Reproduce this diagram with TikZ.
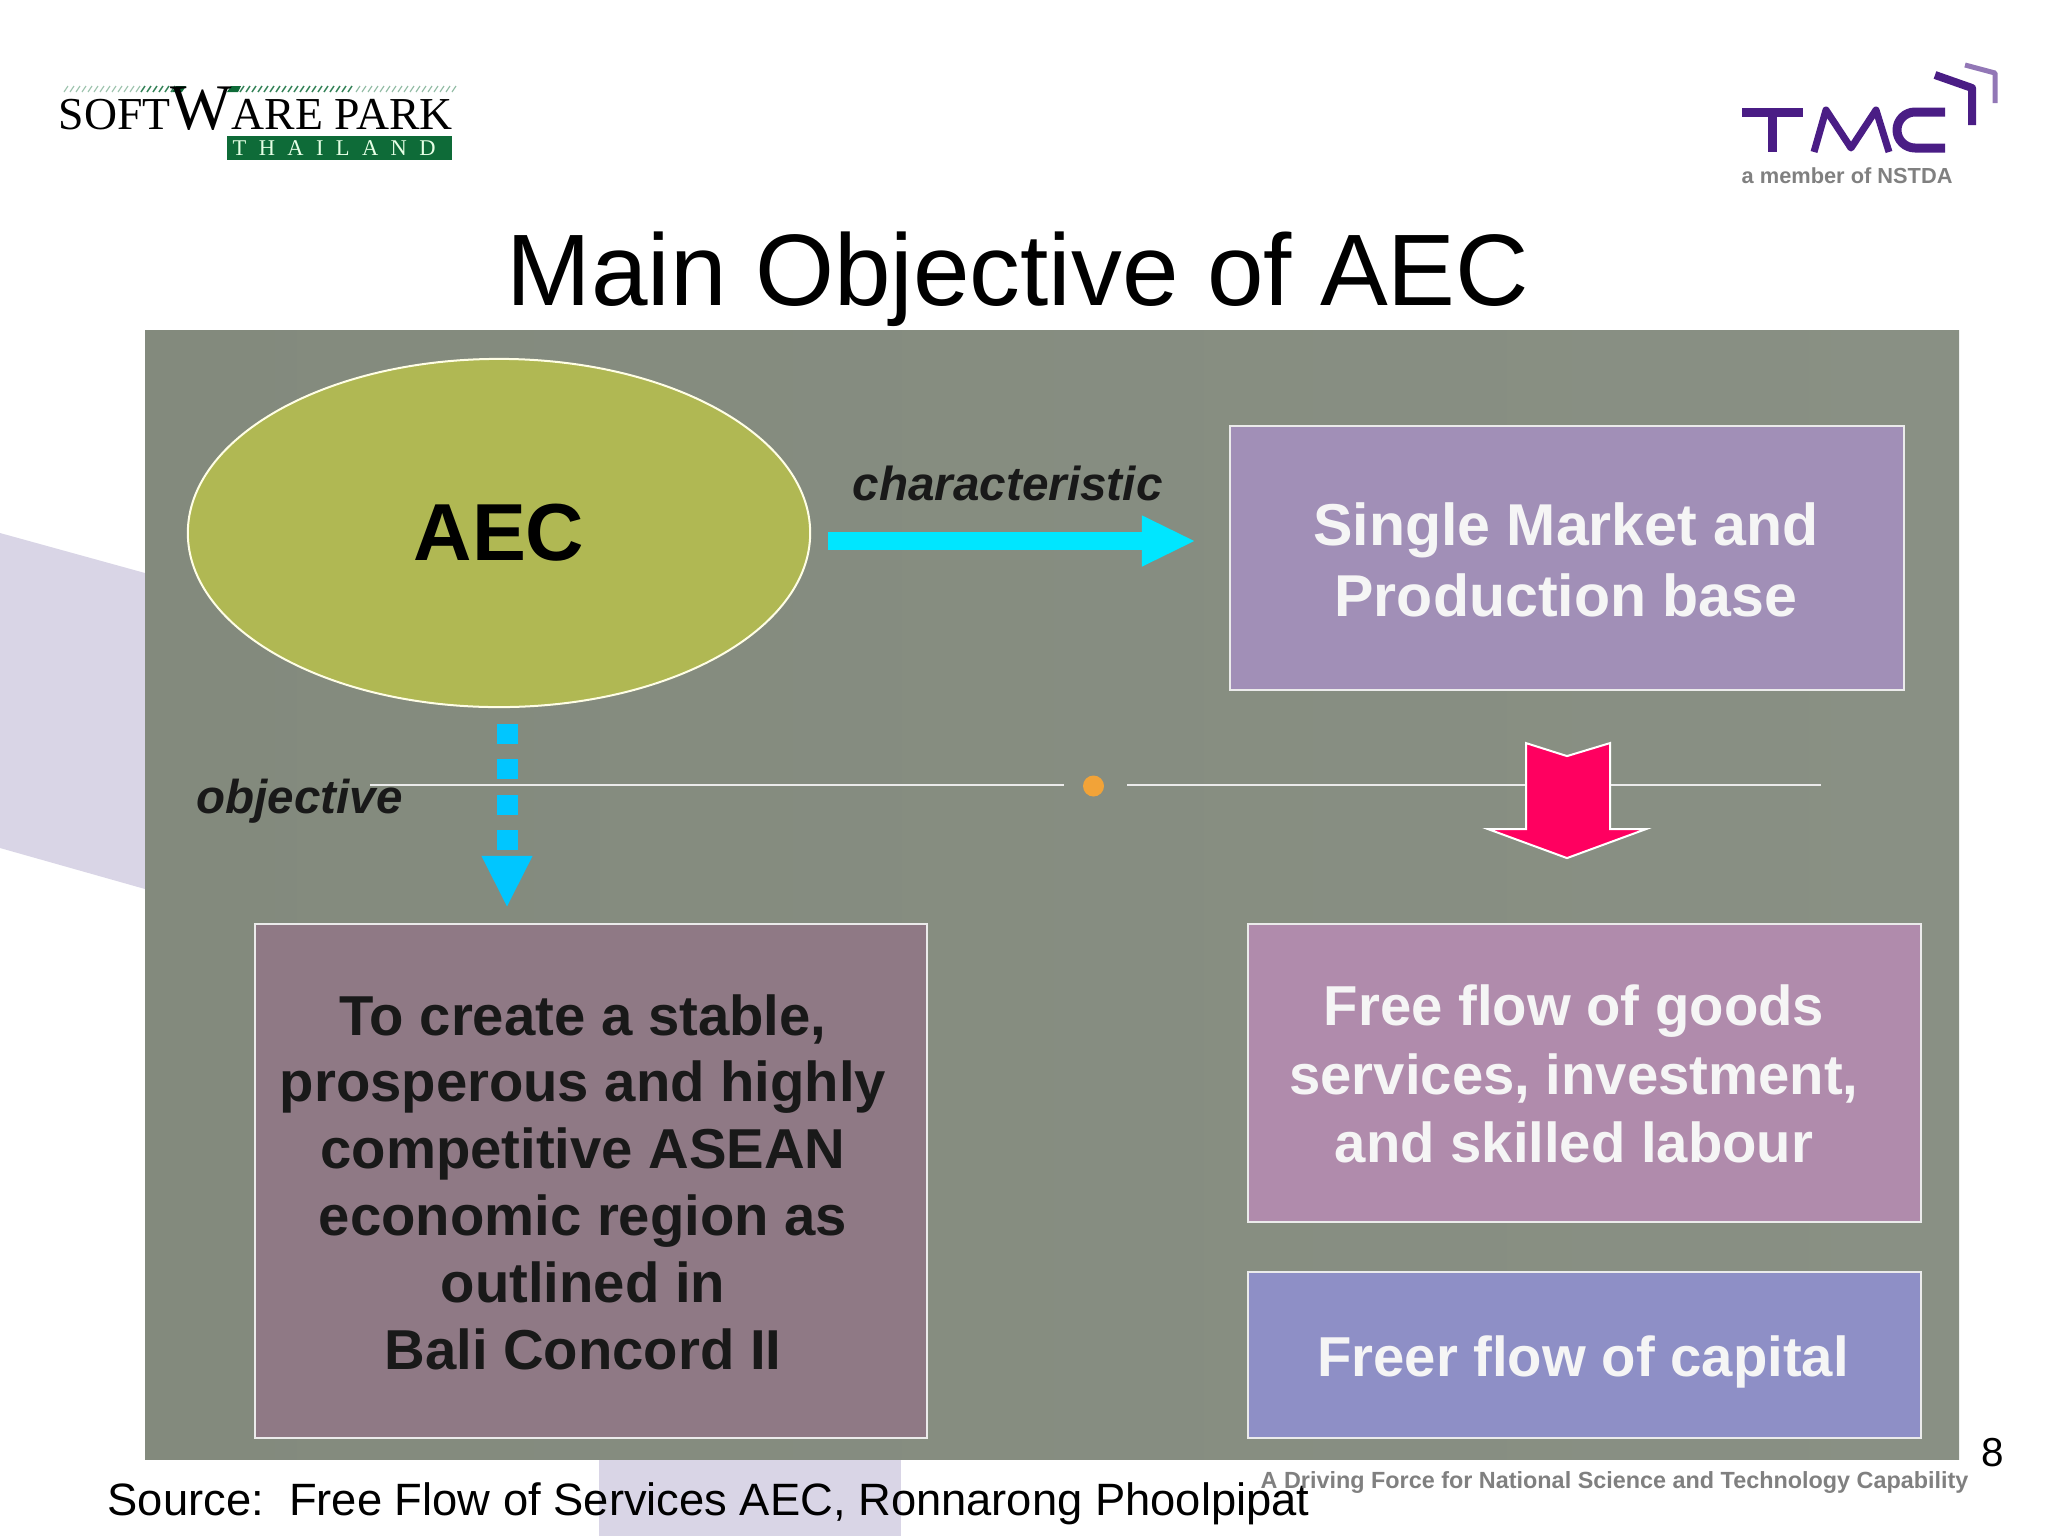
\documentclass[tikz,border=0pt]{standalone}
\usepackage{fontspec}
\setmainfont{Liberation Sans}
\newfontfamily\logofont{Liberation Serif}
\newfontfamily\logowide[LetterSpace=55]{Liberation Serif}
\usetikzlibrary{arrows.meta,shapes.geometric}
\definecolor{panelgrey}{HTML}{838A7D}
\definecolor{panelgreyb}{HTML}{899084}
\definecolor{lilac}{HTML}{D9D5E6}
\definecolor{aecolive}{HTML}{B0B853}
\definecolor{marketpurple}{HTML}{A18FB7}
\definecolor{aimmauve}{HTML}{8F7985}
\definecolor{goodspink}{HTML}{B08BAC}
\definecolor{capitalblue}{HTML}{8E8FC6}
\definecolor{arrowcyan}{HTML}{00E6FF}
\definecolor{arrowblue}{HTML}{00C6FF}
\definecolor{arrowpink}{HTML}{FF0060}
\definecolor{dotorange}{HTML}{F2A338}
\definecolor{tmcpurple}{HTML}{4A1D85}
\definecolor{sparkgreen}{HTML}{0E6B38}
\begin{document}
\begin{tikzpicture}[x=.01cm,y=-.01cm,
    every node/.style={inner sep=0pt,align=center},
    panelbox/.style={draw=white!92!black,line width=.02cm,minimum width=6.72cm},
    boxtext/.style={font=\fontsize{16}{19.4}\selectfont\bfseries},
    tmcstroke/.style={draw=tmcpurple,line width=.09cm,line join=round}]
    \useasboundingbox (0,0) rectangle (2048,1536);
    \fill[lilac] (0,533) -- (145,573) -- (145,889) -- (0,848) -- cycle;
    \fill[lilac] (599,1459) rectangle (901,1536);
    \fill[left color=panelgrey,right color=panelgreyb] (145,330) rectangle (1959,1459);

    \foreach \hx in {64,70,...,136} \draw[sparkgreen!40,line width=.012cm] (\hx,92) -- ++(4,-6);
    \foreach \hx in {141,147,...,176} \draw[sparkgreen!85,line width=.015cm] (\hx,92) -- ++(4,-6);
    \foreach \hx in {240,246,...,350} \draw[sparkgreen!85,line width=.015cm] (\hx,92) -- ++(4,-6);
    \foreach \hx in {356,362,...,452} \draw[sparkgreen!45,line width=.012cm] (\hx,92) -- ++(4,-6);
    \fill[sparkgreen] (176,86) -- (186,86) -- (182,92) -- (172,92) -- cycle;
    \fill[sparkgreen] (231,86) -- (241,86) -- (238,92) -- (227,92) -- cycle;
    \node[anchor=base west,font=\logofont\fontsize{13}{14}\selectfont] (sparkname) at (58,129)
        {SOFT{\fontsize{18.5}{20}\selectfont W}ARE PARK};
    \node[fill=sparkgreen,minimum width=2.25cm,minimum height=.24cm] (sparkbar) at (339.5,148) {};
    \node[anchor=base west,text=white!90!green,font=\logowide\fontsize{6.4}{7}\selectfont] (sparkland) at (232,155) {THAILAND};

    \draw[tmcstroke] (1742,112) -- (1803,112) (1772,112) -- (1772,152);
    \draw[tmcstroke,line width=.07cm] (1814,152) -- (1826,110) -- (1851,148) -- (1876,110) -- (1889,152);
    \draw[tmcstroke] (1945,112) -- (1915,112) arc[start angle=-90,end angle=-270,radius=18] -- (1945,148);
    \draw[tmcstroke,line width=.08cm] (1935,75) -- (1972,88) -- (1972,125);
    \draw[tmcstroke,draw=tmcpurple!60,line width=.05cm] (1965,65) -- (1995,73) -- (1995,103);
    \node[anchor=base west,text=black!50,font=\fontsize{6.2}{8}\selectfont\bfseries] (tmcnote) at (1741,183) {a member of NSTDA};

    \node[anchor=base,font=\fontsize{28.9}{32}\selectfont] (maintitle) at (1018,305) {Main Objective of AEC};

    \node[ellipse,draw=white!90!yellow,line width=.02cm,fill=aecolive,minimum width=6.22cm,minimum height=3.48cm,
        font=\fontsize{23}{26}\selectfont\bfseries] (aec) at (499,533) {AEC};
    \node[panelbox,fill=marketpurple,minimum width=6.74cm,minimum height=2.64cm] (market) at (1567,558) {};
    \node[panelbox,fill=aimmauve,minimum height=5.14cm] (aim) at (591,1181) {};
    \node[panelbox,fill=goodspink,minimum height=2.98cm] (goods) at (1584.5,1073) {};
    \node[panelbox,fill=capitalblue,minimum height=1.66cm] (capital) at (1584.5,1355) {};

    \node[boxtext,font=\fontsize{16.8}{20}\selectfont\bfseries,text=white!96!black] (markettext) at (1566,560) {Single Market and\\Production base};
    \node[boxtext,font=\fontsize{16}{19}\selectfont\bfseries,text=black!90] (aimtext) at (583,1182) {To create a stable,\\prosperous and highly\\competitive ASEAN\\economic region as\\outlined in\\Bali Concord II};
    \node[boxtext,text=white!96!black] (goodstext) at (1574,1074) {Free flow of goods\\services, investment,\\and skilled labour};
    \node[boxtext,text=white!96!black] (capitaltext) at (1583,1362) {Freer flow of capital};

    \draw[white!92!black,line width=.015cm] (370,785) -- (1064,785);
    \draw[white!92!black,line width=.015cm] (1127,785) -- (1821,785);
    \fill[dotorange] (1093.5,786) circle[radius=10.5];

    \draw[arrowcyan,line width=.18cm,shorten <=.17cm,shorten >=.33cm,-{Triangle[length=.54cm,width=.47cm]}]
        ([yshift=-.08cm]aec.east) -- ([yshift=-.08cm]aec.east -| market.west);
    \draw[arrowblue,line width=.21cm,dash pattern=on .2cm off .153cm,shorten <=.16cm,shorten >=.15cm,-{Triangle[length=.52cm,width=.47cm]}]
        ([xshift=.08cm]aec.south) -- ([xshift=.08cm]aec.south |- aim.north);
    \draw[white,line width=.02cm,fill=arrowpink] (market.south) ++(-41,52) -- ++(41,13) -- ++(43,-13) -- ++(0,86)
        -- ++(36,0) -- ++(-79,29) -- ++(-79,-29) -- ++(38,0) -- cycle;

    \node[anchor=base west,font=\fontsize{13.55}{16}\selectfont\bfseries\itshape,text=black!90] (charlabel) at (852,500) {characteristic};
    \node[anchor=base west,font=\fontsize{13.5}{16}\selectfont\bfseries\itshape,text=black!90] (objlabel) at (196,813) {objective};

    \node[anchor=base west,font=\fontsize{12.89}{14}\selectfont] (source) at (107,1515) {Source:\ \ Free Flow of Services AEC, Ronnarong Phoolpipat};
    \node[anchor=base west,text=black!50,font=\fontsize{6.65}{8}\selectfont\bfseries] (drivingforce) at (1260,1488) {A Driving Force for National Science and Technology Capability};
    \node[font=\fontsize{11.5}{13}\selectfont] (pagenum) at (1993,1453) {8};
\end{tikzpicture}
\end{document}
